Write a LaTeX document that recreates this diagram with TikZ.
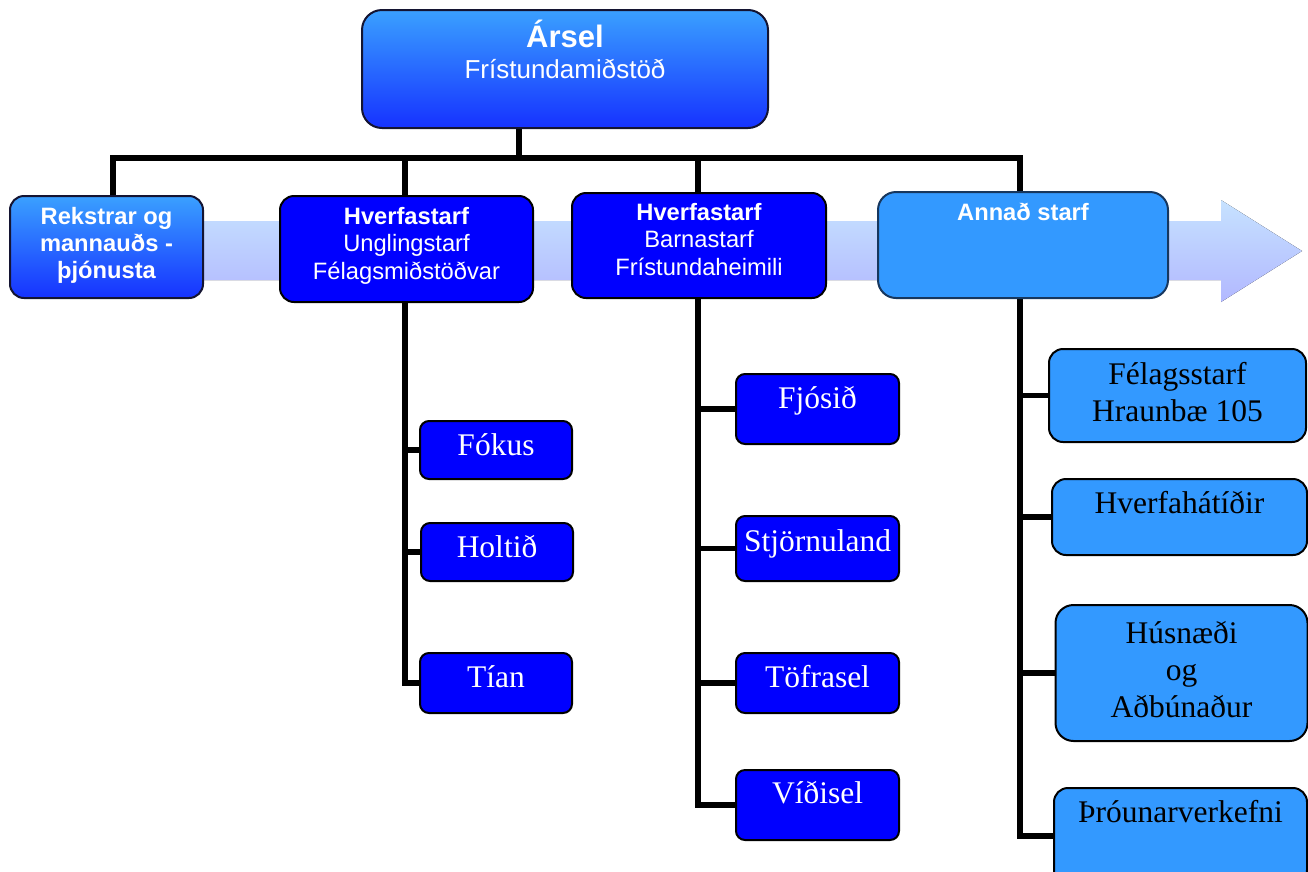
\documentclass[tikz,border=0pt]{standalone}
\usepackage{fontspec}
\setmainfont{Liberation Serif}
\setsansfont{Liberation Sans}
\usetikzlibrary{backgrounds}
\definecolor{lightblue}{RGB}{51,153,255}
\definecolor{pureblue}{RGB}{0,0,255}
\definecolor{gradtop}{RGB}{58,160,255}
\definecolor{gradbot}{RGB}{22,50,255}
\definecolor{bandtop}{RGB}{198,226,255}
\definecolor{bandbot}{RGB}{178,184,255}
\definecolor{navy}{RGB}{23,55,94}
\begin{document}
\begin{tikzpicture}[x=1pt,y=-1pt,
  box/.style={draw=black, line width=2pt, rounded corners=#1, inner sep=0pt},
  box/.default=10pt,
  gradbox/.style={box=#1, draw={rgb,255:red,20;green,20;blue,50}, top color=gradtop, bottom color=gradbot},
  darkbox/.style={box=#1, fill=pureblue},
  lightbox/.style={box=#1, fill=lightblue},
  conn/.style={draw=black, line width=5.5pt, line join=miter},
  stxt/.style={font=\sffamily\fontsize{23.7}{27.5}\selectfont, text=white, align=center, inner sep=0pt, anchor=base},
  wtxt/.style={font=\rmfamily\fontsize{31.5}{37}\selectfont, text=white, align=center, inner sep=0pt, anchor=base},
  btxt/.style={font=\rmfamily\fontsize{31.5}{37}\selectfont, text=black, align=center, inner sep=0pt, anchor=base},
]
\useasboundingbox (0,0) rectangle (1308,871);
\clip (0,0) rectangle (1308,871);

% top box
\node[gradbox=20pt, minimum width=406pt, minimum height=118pt] (arsel) at (565,69) {};
\node[stxt, font=\sffamily\bfseries\fontsize{31}{34}\selectfont] (arsel-t1) at (565,47) {Ársel};
\node[stxt, font=\sffamily\fontsize{26}{30}\selectfont] (arsel-t2) at (565,78) {Frístundamiðstöð};

% second level
\node[gradbox=14pt, minimum width=193pt, minimum height=102pt] (rek) at (106.5,247) {};
\node[stxt, font=\sffamily\bfseries\fontsize{23.7}{27}\selectfont] (rek-t) at (106.5,278) {Rekstrar og\\mannauðs -\\þjónusta};

\node[darkbox=14pt, minimum width=253pt, minimum height=106pt] (h1) at (406.5,249) {};
\node[stxt] (h1-t) at (406.5,279) {\textbf{Hverfastarf}\\Unglingstarf\\Félagsmiðstöðvar};

\node[darkbox=14pt, minimum width=254pt, minimum height=105pt] (h2) at (699,245.5) {};
\node[stxt] (h2-t) at (699,275) {\textbf{Hverfastarf}\\Barnastarf\\Frístundaheimili};

\node[lightbox=18pt, draw=navy, minimum width=290pt, minimum height=106pt] (ann) at (1023,245) {};
\node[stxt, font=\sffamily\bfseries\fontsize{23.7}{27}\selectfont] (ann-t) at (1023,220) {Annað starf};

% third level, left
\node[darkbox=9pt, minimum width=152pt, minimum height=58pt] (fokus) at (496,450) {};
\node[wtxt] (fokus-t) at (496,455) {Fókus};
\node[darkbox=9pt, minimum width=152pt, minimum height=58pt] (holtid) at (497,552) {};
\node[wtxt] (holtid-t) at (497,557) {Holtið};
\node[darkbox=9pt, minimum width=152pt, minimum height=60pt] (tian) at (496,683) {};
\node[wtxt] (tian-t) at (496,687) {Tían};

% third level, middle
\node[darkbox=9pt, minimum width=163pt, minimum height=70pt] (fjosid) at (817.5,409) {};
\node[wtxt] (fjosid-t) at (817.5,408) {Fjósið};
\node[darkbox=9pt, minimum width=163pt, minimum height=65pt] (stjorn) at (817.5,548.5) {};
\node[wtxt] (stjorn-t) at (817.5,551) {Stjörnuland};
\node[darkbox=9pt, minimum width=163pt, minimum height=60pt] (tofra) at (817.5,683) {};
\node[wtxt] (tofra-t) at (817.5,687) {Töfrasel};
\node[darkbox=9pt, minimum width=163pt, minimum height=70pt] (vidi) at (817.5,805) {};
\node[wtxt] (vidi-t) at (817.5,803) {Víðisel};

% third level, right
\node[lightbox=14pt, minimum width=257pt, minimum height=93pt] (felag) at (1177.5,395.5) {};
\node[btxt] (felag-t) at (1177.5,421) {Félagsstarf\\Hraunbæ 105};
\node[lightbox=14pt, minimum width=255pt, minimum height=76pt] (hverfa) at (1179.5,517) {};
\node[btxt] (hverfa-t) at (1179.5,513) {Hverfahátíðir};
\node[lightbox=18pt, minimum width=252pt, minimum height=136pt] (husn) at (1181.5,673) {};
\node[btxt] (husn-t) at (1181.5,717) {Húsnæði\\og\\Aðbúnaður};
\node[lightbox=14pt, minimum width=253pt, minimum height=96pt] (throun) at (1180.5,836) {};
\node[btxt] (throun-t) at (1180.5,822) {Þróunarverkefni};

\begin{scope}[on background layer]
  % arrow band
  \fill[top color=bandtop, bottom color=bandbot]
    (12,221) -- (1221,221) -- (1221,200) -- (1302,251) -- (1221,302) -- (1221,280) -- (12,280) -- cycle;
  % connectors
  \coordinate (bus) at (519,158);
  \coordinate (d1) at (113,158);
  \coordinate (d2) at (405,158);
  \coordinate (d3) at (698,158);
  \coordinate (d4) at (1020,158);
  \draw[conn] (arsel.south -| bus) -- (bus);
  \draw[conn] (d1 |- rek.north) -- (d1) -- (d4) |- (throun.west);
  \draw[conn] (d2) -- (d2 |- h1.north);
  \draw[conn] (d3) -- (d3 |- h2.north);
  \foreach \n in {fokus,holtid,tian} \draw[conn] (d2 |- h1.south) |- (\n.west);
  \foreach \n in {fjosid,stjorn,tofra,vidi} \draw[conn] (d3 |- h2.south) |- (\n.west);
  \foreach \n in {felag,hverfa,husn} \draw[conn] (d4 |- ann.south) |- (\n.west);
\end{scope}
\end{tikzpicture}
\end{document}
